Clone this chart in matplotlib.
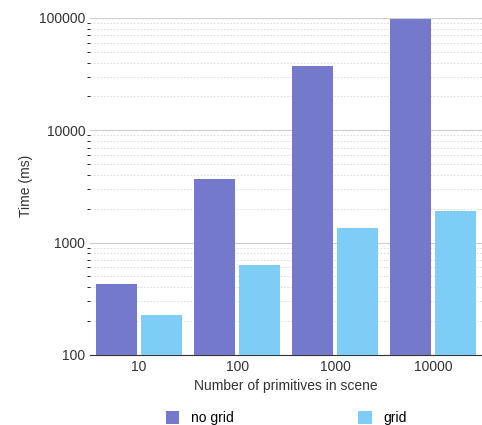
import numpy as np
import matplotlib.pyplot as plt
import matplotlib.ticker as ticker

plt.rcParams['font.family'] = ['Liberation Sans', 'DejaVu Sans']

categories = ['10', '100', '1000', '10000']
no_grid = [428, 3660, 37000, 97000]
grid = [227, 630, 1345, 1905]

fig = plt.figure(figsize=(4.82, 4.25), dpi=100)
ax = fig.add_axes([0.187, 0.165, 0.813, 0.793])

x = np.arange(len(categories))
w = 0.42
ax.bar(x - w / 2 - 0.02, no_grid, w, color='#7479cc', label='no grid', zorder=3)
ax.bar(x + w / 2 + 0.02, grid, w, color='#7dcdf7', label='grid', zorder=3)

ax.set_yscale('log')
ax.set_ylim(100, 100000)
ax.set_xlim(-0.5, 3.5)
ax.yaxis.set_major_locator(ticker.LogLocator(base=10))
ax.yaxis.set_major_formatter(ticker.FuncFormatter(lambda v, p: f'{int(v)}'))
ax.yaxis.set_minor_locator(ticker.LogLocator(base=10, subs=np.arange(2, 10)))
ax.yaxis.set_minor_formatter(ticker.NullFormatter())
ax.grid(True, which='major', axis='y', color='#cccccc', linewidth=0.8, zorder=0)
ax.grid(True, which='minor', axis='y', color='#d8d8d8', linewidth=0.6, linestyle=(0, (2, 2)), zorder=0)
ax.set_xticks(x)
ax.set_xticklabels(categories)
ax.tick_params(axis='both', length=0, labelsize=10, colors='#333333')
for s in ['top', 'right', 'left']:
    ax.spines[s].set_visible(False)
ax.spines['bottom'].set_color('#333333')

ax.set_ylabel('Time (ms)', fontsize=10, color='#333333')
ax.set_xlabel('Number of primitives in scene', fontsize=10, color='#333333')
ax.legend(loc='upper center', bbox_to_anchor=(0.5, -0.13), ncol=2, frameon=False,
          fontsize=10, handlelength=1.0, handleheight=1.0, columnspacing=9)

fig.savefig('out.png')
